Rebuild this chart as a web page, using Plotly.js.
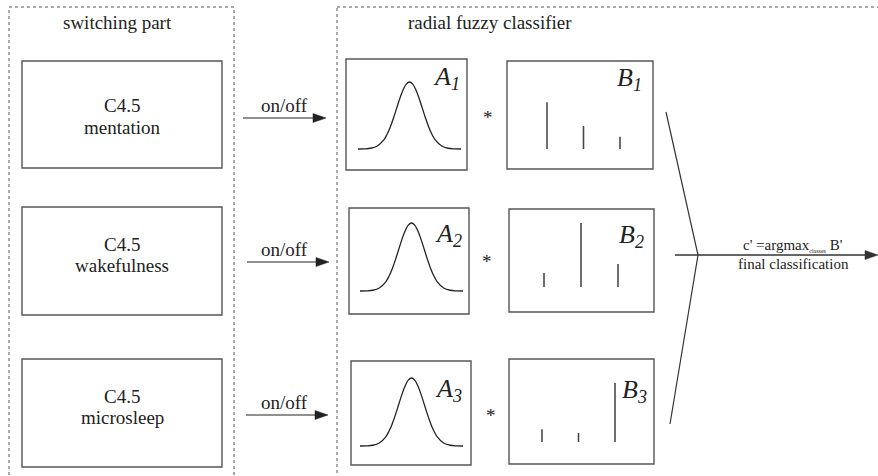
<!DOCTYPE html>
<html>
<head>
<meta charset="utf-8">
<script src="https://cdn.plot.ly/plotly-3.0.1.min.js"></script>
<style>html,body{margin:0;padding:0;background:#fff;}#chart{width:878px;height:476px;}</style>
</head>
<body>
<div id="chart"></div>
<script>
// ---- data ----
var sectionTitles = ["switching part", "radial fuzzy classifier"];
var classifierNames = ["mentation", "wakefulness", "microsleep"];
var classifierType = "C4.5";
var switchLabel = "on/off";
var gaussX = [-4,-3.5,-3,-2.5,-2,-1.75,-1.5,-1.25,-1,-0.75,-0.5,-0.25,0,0.25,0.5,0.75,1,1.25,1.5,1.75,2,2.5,3,3.5,4];
var gaussY = [0.000,0.002,0.011,0.044,0.135,0.216,0.325,0.458,0.607,0.755,0.882,0.969,1.000,0.969,0.882,0.755,0.607,0.458,0.325,0.216,0.135,0.044,0.011,0.002,0.000];
var bClasses = [1, 2, 3];
var b1Values = [0.73, 0.36, 0.19];
var b2Values = [0.22, 1.00, 0.36];
var b3Values = [0.20, 0.14, 0.92];
var bValues = [b1Values, b2Values, b3Values];
var aLabels = ["A<sub>1</sub>", "A<sub>2</sub>", "A<sub>3</sub>"];
var bLabels = ["B<sub>1</sub>", "B<sub>2</sub>", "B<sub>3</sub>"];
var outputLine1 = "c' =argmax<sub><span style='font-size:6px'>classes</span></sub> B'";
var outputLine2 = "final classification";

// ---- layout helpers ----
var W = 878, H = 476;
function domX(p0, p1, u0, u1, r0, r1) {
  var s = (p1 - p0) / (u1 - u0);
  return [(p0 + (r0 - u0) * s) / W, (p0 + (r1 - u0) * s) / W];
}
function domY(p0, p1, u0, u1, r0, r1) {
  var s = (p1 - p0) / (u1 - u0);
  var a = p0 + (r0 - u0) * s, b = p0 + (r1 - u0) * s;
  return [1 - a / H, 1 - b / H];
}
var serif = "Liberation Serif, Times New Roman, serif";
var boxCol = "#555";

// panel geometry (pixels)
var aMap = [
  {x0: 358, x1: 461, yb: 149, yp: 82},
  {x0: 360, x1: 463, yb: 291, yp: 223},
  {x0: 360, x1: 463, yb: 446, yp: 378}
];
var bMap = [
  {x1: 547, x3: 620, yb: 149},
  {x1: 544, x3: 618, yb: 287},
  {x1: 542, x3: 615, yb: 442}
];

var layout = {
  width: W, height: H,
  margin: {l: 0, r: 0, t: 0, b: 0},
  paper_bgcolor: "#fff", plot_bgcolor: "rgba(0,0,0,0)",
  showlegend: false,
  xaxis: {range: [0, W], visible: false, domain: [0, 1], fixedrange: true},
  yaxis: {range: [H, 0], visible: false, domain: [0, 1], fixedrange: true},
  shapes: [], annotations: []
};
var traces = [];
var hid = {visible: false, fixedrange: true};

for (var i = 0; i < 3; i++) {
  var n = 2 + i;
  var m = aMap[i];
  layout["xaxis" + n] = Object.assign({}, hid, {anchor: "y" + n, range: [-4.6, 4.6], domain: domX(m.x0, m.x1, -4, 4, -4.6, 4.6)});
  layout["yaxis" + n] = Object.assign({}, hid, {anchor: "x" + n, range: [-0.1, 1.1], domain: domY(m.yb, m.yp, 0, 1, -0.1, 1.1)});
  traces.push({type: "scatter", mode: "lines", x: gaussX, y: gaussY, xaxis: "x" + n, yaxis: "y" + n,
    line: {color: "#222", width: 1.3, shape: "spline", smoothing: 1}, hoverinfo: "skip"});
}
for (var j = 0; j < 3; j++) {
  var k = 5 + j;
  var b = bMap[j];
  layout["xaxis" + k] = Object.assign({}, hid, {anchor: "y" + k, range: [0, 4], domain: domX(b.x1, b.x3, 1, 3, 0, 4)});
  layout["yaxis" + k] = Object.assign({}, hid, {anchor: "x" + k, range: [0, 1.2], domain: domY(b.yb, b.yb - 64, 0, 1, 0, 1.2)});
  traces.push({type: "bar", x: bClasses, y: bValues[j], xaxis: "x" + k, yaxis: "y" + k, width: 0.042,
    marker: {color: "#444", line: {width: 0}}, hoverinfo: "skip"});
}

function rect(x0, y0, x1, y1, col, w, dash) {
  layout.shapes.push({type: "rect", xref: "x", yref: "y", x0: x0, y0: y0, x1: x1, y1: y1,
    line: {color: col, width: w, dash: dash || "solid"}, fillcolor: "rgba(0,0,0,0)", layer: "above"});
}
function arrow(x0, x1, y, col, w) {
  layout.shapes.push({type: "line", xref: "x", yref: "y", x0: x0, y0: y, x1: x1 - 6, y1: y,
    line: {color: col, width: w}, layer: "above"});
  layout.shapes.push({type: "path", xref: "x", yref: "y",
    path: "M" + (x1 - 13) + "," + (y - 4.5) + " L" + x1 + "," + y + " L" + (x1 - 13) + "," + (y + 4.5) + " Z",
    line: {color: col, width: 0.5}, fillcolor: col, layer: "above"});
}
// dotted section frames
rect(9, 7, 234, 490, "#555", 1, "dot");
rect(337, 7, 900, 490, "#555", 1, "dot");
// classifier boxes
var leftBoxes = [[22, 61, 222, 168], [22, 207, 222, 315], [22, 359, 222, 467]];
var aBoxes = [[346, 59, 467, 170], [349, 208, 469, 314], [351, 361, 471, 465]];
var bBoxes = [[507, 61, 653, 169], [509, 209, 654, 312], [509, 359, 654, 464]];
leftBoxes.concat(aBoxes, bBoxes).forEach(function (r) { rect(r[0], r[1], r[2], r[3], boxCol, 1.4); });

// chevron + output arrow
layout.shapes.push({type: "path", xref: "x", yref: "y", path: "M666,112 L698,255 L670,424",
  line: {color: "#333", width: 1.2}, layer: "above"});
arrow(675, 878, 255, "#333", 1.3);

function txt(x, y, t, size) {
  layout.annotations.push({xref: "x", yref: "y", x: x, y: y, text: t, showarrow: false,
    xanchor: "center", yanchor: "middle", font: {family: serif, size: size, color: "#222"}});
}
txt(117, 22, sectionTitles[0], 19);
txt(490, 22, sectionTitles[1], 19);

var typeY = [105, 244, 396], nameY = [127, 265, 417];
var offY = [105, 249, 402];
var arrows = [[243, 326, 118], [247, 329, 262], [246, 328, 415]];
var starPos = [[488, 117], [487, 261], [491, 415]];
var aLab = [[446, 78], [448, 235], [448, 390]];
var bLab = [[629, 79], [631, 236], [634, 391]];
for (var q = 0; q < 3; q++) {
  txt(122, typeY[q], classifierType, 19);
  txt(122, nameY[q], classifierNames[q], 19);
  txt(284, offY[q], switchLabel, 19);
  arrow(arrows[q][0], arrows[q][1], arrows[q][2], "#222", 1.2);
  txt(starPos[q][0], starPos[q][1], "*", 19);
  txt(aLab[q][0], aLab[q][1], "<i>" + aLabels[q] + "</i>", 26);
  txt(bLab[q][0], bLab[q][1], "<i>" + bLabels[q] + "</i>", 26);
}
txt(793, 245, outputLine1, 15);
txt(793, 264, outputLine2, 15);

Plotly.newPlot("chart", traces, layout, {staticPlot: true, displayModeBar: false}).then(function (gd) {
  // drop empty placeholder text nodes left by hidden axes
  gd.querySelectorAll("svg text").forEach(function (t) {
    if (!t.textContent || !t.textContent.trim()) t.parentNode.removeChild(t);
  });
});
</script>
</body>
</html>
